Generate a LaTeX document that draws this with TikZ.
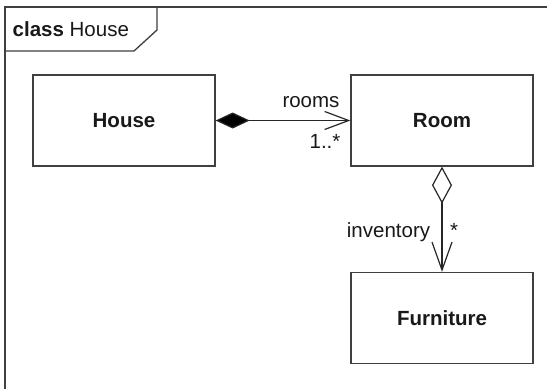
\documentclass[tikz,border=0pt]{standalone}
\usepackage{fontspec}
\setmainfont{Liberation Sans}
\usetikzlibrary{arrows.meta}
\tikzset{
  lbl/.style={font=\fontsize{20.5}{24}\selectfont, text=black!90, inner sep=0pt},
  classbox/.style={draw=black!75, line width=1.3pt, minimum width=182pt, minimum height=91pt, inner sep=0pt,
    font=\bfseries\fontsize{20.5}{24}\selectfont, text=black!90},
  conn/.style={draw=black!85, line width=1.2pt},
  comp/.style={conn, {Diamond[fill=black, length=34pt, width=16pt, line join=miter]}-{Straight Barb[length=24pt, width=18pt]}},
  aggr/.style={conn, {Diamond[open, fill=white, length=37pt, width=20pt]}-{Straight Barb[length=28pt, width=20pt]}},
  framestyle/.style={draw=black!75, line width=1.3pt}
}
\begin{document}
\begin{tikzpicture}[x=1pt,y=-1pt]
\useasboundingbox (0,0) rectangle (547,389);
\fill[white] (0,0) rectangle (547,389);
% frame
\draw[framestyle] (5,389) -- (5,7) -- (547,7);
\draw[framestyle] (5,51) -- (134,51) -- (157,30) -- (157,7);
\node[lbl, anchor=base west] (title) at (12.5,36) {\textbf{class} House};
% classes
\node[classbox] (house) at (124,120.5) {House};
\node[classbox] (room) at (442,120.5) {Room};
\node[classbox] (furn) at (442,318) {Furniture};
% connectors
\draw[comp] (house.east) -- (room.west);
\draw[aggr] (room.south) -- (furn.north);
% labels
\node[lbl, anchor=base] (rooms) at (311,107) {rooms};
\node[lbl, anchor=base] (mult1) at (325,148) {1..*};
\node[lbl, anchor=base] (inv) at (388.5,237) {inventory};
\node[lbl, anchor=base] (mult2) at (454,237) {*};
\end{tikzpicture}
\end{document}
